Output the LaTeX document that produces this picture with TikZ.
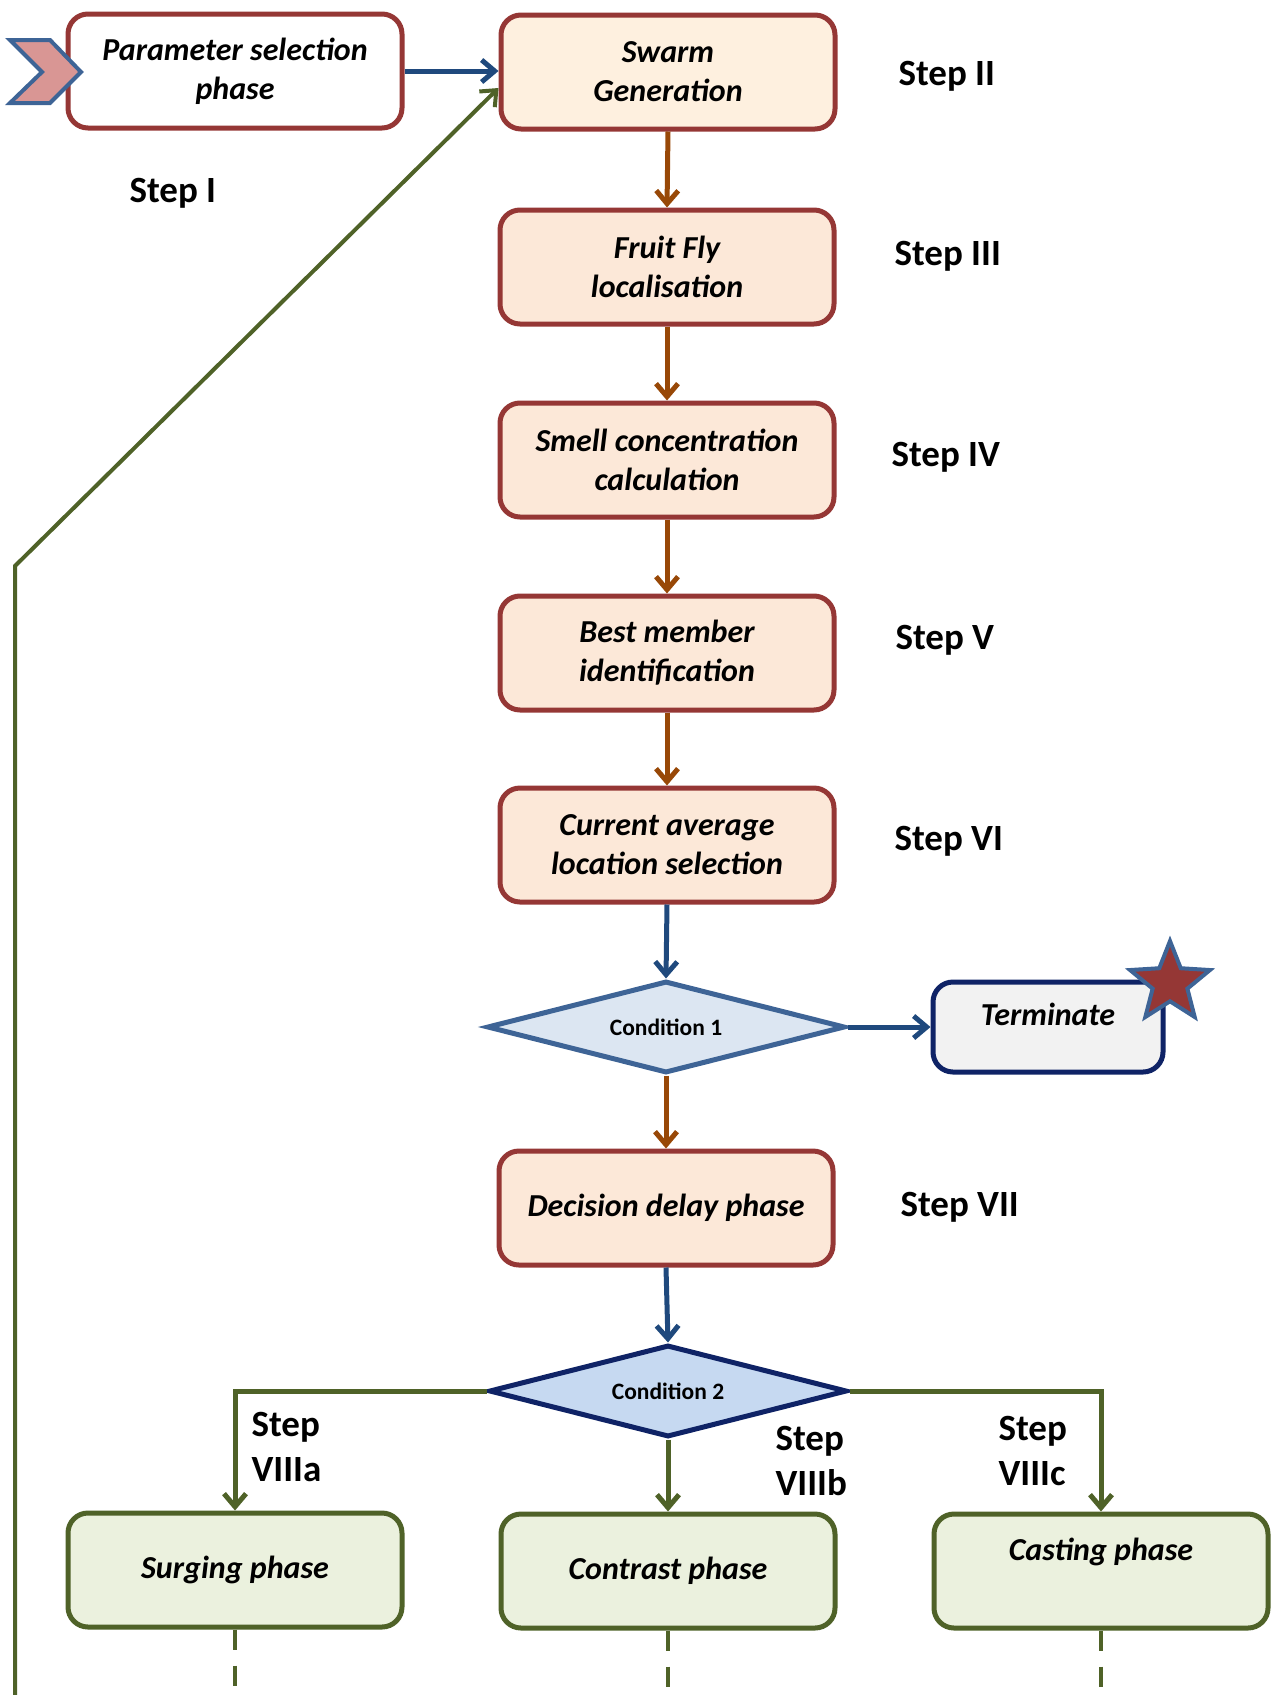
\documentclass[tikz,border=0pt]{standalone}
\usepackage{fontspec}
\setmainfont{Carlito}
\usetikzlibrary{arrows.meta,shapes.geometric}
\definecolor{boxred}{HTML}{953735}
\definecolor{peach}{HTML}{FCE8D8}
\definecolor{cream}{HTML}{FEF0DF}
\definecolor{brownarr}{HTML}{984807}
\definecolor{bluearr}{HTML}{1F497D}
\definecolor{steel}{HTML}{3E6496}
\definecolor{navy}{HTML}{0F2366}
\definecolor{palebl}{HTML}{DCE6F2}
\definecolor{lightbl}{HTML}{C6D9F1}
\definecolor{olive}{HTML}{4F6228}
\definecolor{palegr}{HTML}{EBF1DE}
\definecolor{rose}{HTML}{D99694}
\definecolor{paleg}{HTML}{F2F2F2}

\tikzset{
	box/.style={rectangle, rounded corners=20pt, line width=5pt, draw=boxred, fill=peach,
		minimum width=334pt, minimum height=114pt, align=center,
		font=\fontsize{32}{39}\selectfont\bfseries\itshape},
	greenbox/.style={box, draw=olive, fill=palegr},
	cond/.style={diamond, aspect=3.7, inner sep=0pt, line width=5pt,
		minimum width=358pt, minimum height=92pt, font=\fontsize{23.5}{28}\selectfont\bfseries},
	steplbl/.style={anchor=west, align=left, font=\fontsize{37}{45}\selectfont\bfseries},
	arr/.style={line width=5pt, -{Straight Barb[length=13pt,width=22pt]}},
}

\begin{document}
\begin{tikzpicture}[x=1pt,y=-1pt]
\useasboundingbox (0,0) rectangle (1274,1695);

\node[box, fill=white] (param) at (235,71) {Parameter selection\\phase};
\node[box, fill=cream] (swarm) at (668,72) {Swarm\\Generation};
\node[box] (fly) at (667,267) {Fruit Fly\\localisation};
\node[box] (smell) at (667,460) {Smell concentration\\calculation};
\node[box] (best) at (667,653) {Best member\\identification};
\node[box] (avg) at (667,845) {Current average\\location selection};
\node[cond, draw=steel, fill=palebl] (c1) at (666,1027) {Condition 1};
\node[box, draw=navy, fill=paleg, minimum width=230pt, minimum height=90pt, text depth=26pt] (term) at (1048,1027) {Terminate};
\node[star, star points=5, star point ratio=2.3, minimum size=84pt, inner sep=0pt,
	line width=4pt, draw=steel, fill=boxred] (badge) at (1170,983) {};
\node[box] (delay) at (666,1208) {Decision delay phase};
\node[cond, draw=navy, fill=lightbl] (c2) at (668,1391) {Condition 2};
\node[greenbox] (surge) at (235,1570) {Surging phase};
\node[greenbox] (contrast) at (668,1571) {Contrast phase};
\node[greenbox, text depth=44pt] (cast) at (1101,1571) {Casting phase};

% entry chevron
\draw[line width=4pt, draw=steel, fill=rose, line join=miter]
	(10,40) -- (50,40) -- (81,72) -- (50,103) -- (10,103) -- (42,72) -- cycle;

\node[steplbl] (s1) at (126,193) {Step I};
\node[steplbl] (s2) at (895,76) {Step II};
\node[steplbl] (s3) at (891,256) {Step III};
\node[steplbl] (s4) at (888,457) {Step IV};
\node[steplbl] (s5) at (892,640) {Step V};
\node[steplbl] (s6) at (891,841) {Step VI};
\node[steplbl] (s7) at (897,1207) {Step VII};
\node[steplbl] (s8a) at (248,1447) {Step\\VIIIa};
\node[steplbl] (s8b) at (772,1461) {Step\\VIIIb};
\node[steplbl] (s8c) at (995,1451) {Step\\VIIIc};

\foreach \u/\v in {
	swarm/fly,fly/smell,smell/best,best/avg,c1/delay%
}{
	\draw[arr, brownarr] (\u.south) -- (\v.north);
}

\draw[arr, bluearr] (param.east) -- (param.east -| swarm.west);
\draw[arr, bluearr] (avg.south) -- (c1.north);
\draw[arr, bluearr] (c1.east) -- (term.west);
\draw[arr, bluearr] (delay.south) -- (c2.north);

\draw[arr, olive] (c2.west) -| (surge.north);
\draw[arr, olive] (c2.south) -- (contrast.north);
\draw[arr, olive] (c2.east) -| (cast.north);

% loop back to the swarm
\coordinate (loopin) at (15,1700);
\coordinate (bend) at (15,566);
\draw[arr, olive, line width=4pt] (loopin) -- (bend) -- ([yshift=-16pt]swarm.west);

\foreach \b in {surge,contrast,cast}{
	\draw[olive, line width=4.5pt, dash pattern=on 20pt off 16pt] (\b.south) -- (\b.south |- 0,1700);
}
\end{tikzpicture}
\end{document}
